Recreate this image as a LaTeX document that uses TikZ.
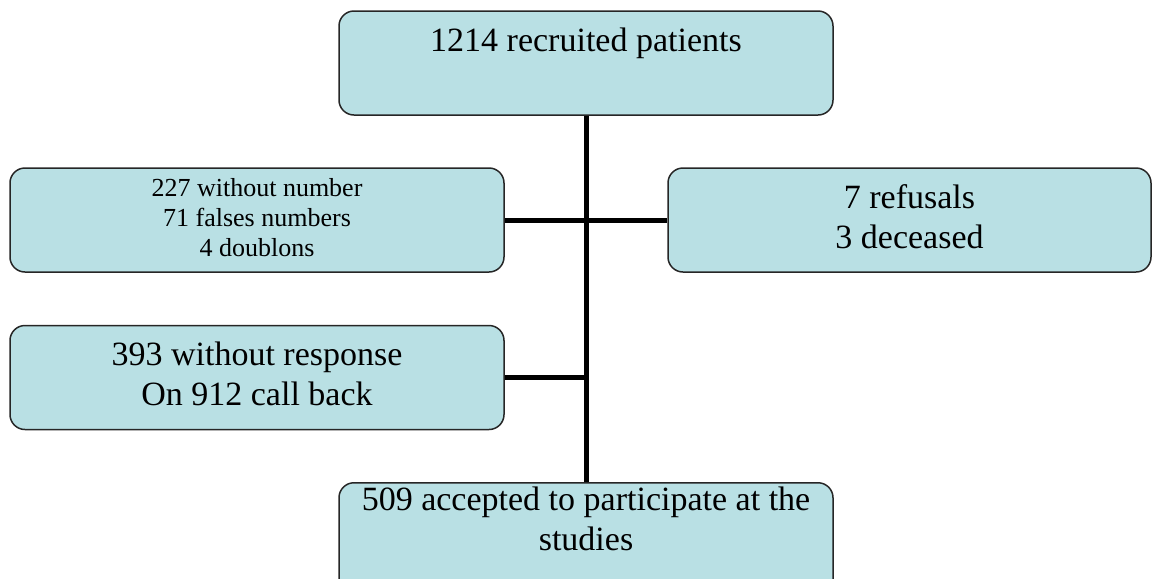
\documentclass[tikz,border=0pt]{standalone}
\usepackage{fontspec}
\setmainfont{Liberation Serif}
\definecolor{boxfill}{RGB}{185,224,228}
\begin{document}
\begin{tikzpicture}[x=0.5pt,y=-0.5pt,
  box/.style={draw=black!85, line width=0.75pt, fill=boxfill, rounded corners=7.5pt,
    minimum width=247pt, minimum height=52pt, inner sep=0pt, align=center},
  big/.style={font=\fontsize{17}{20}\selectfont},
  small/.style={font=\fontsize{13}{15}\selectfont},
  link/.style={line width=2.5pt}]
\useasboundingbox (0,0) rectangle (1153,579);
\clip (0,0) rectangle (1153,579);
\node[box, big] (recruited) at (586,63){\strut 1214 recruited patients\\ \strut};
\node[box, small] (nonumber) at (257,220){\strut 227 without number\\71 falses numbers\\4 doublons\strut};
\node[box, big, minimum width=241.5pt] (refusals) at (909.5,220){\strut 7 refusals\\3 deceased\strut};
\node[box, big] (noresponse) at (257,377.5){\strut 393 without response\\On 912 call back\strut};
\node[box, big, anchor=north] (accepted) at (586,482){\strut 509 accepted to participate at the\\studies\\ \strut};
\draw[link](recruited) -- (accepted);
\draw[link](nonumber) -- (refusals);
\draw[link](noresponse) -- (noresponse -| recruited);
\end{tikzpicture}
\end{document}
